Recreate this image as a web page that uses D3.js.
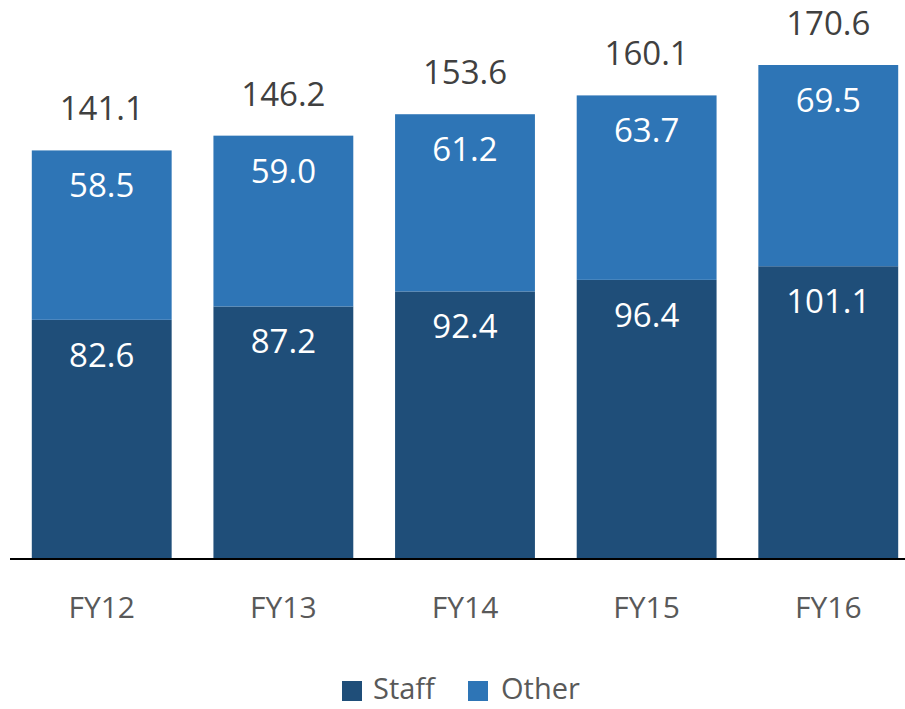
<!DOCTYPE html>
<html><head><meta charset="utf-8">
<script src="https://cdn.jsdelivr.net/npm/d3@7"></script>
<style>body{margin:0;background:#fff}svg{display:block}text{font-family:"Open Sans",sans-serif}</style>
</head><body>
<svg id="c" width="905" height="709"></svg>
<script>
const categories = ["FY12","FY13","FY14","FY15","FY16"];
const staff = [82.6,87.2,92.4,96.4,101.1];
const other = [58.5,59.0,61.2,63.7,69.5];
const totals = [141.1,146.2,153.6,160.1,170.6];
const seriesNames = ["Staff","Other"];
const colors = ["#1F4E79","#2E75B6"];

const svg = d3.select("#c");
const baseY = 559;
const x = d3.scaleBand().domain(categories).range([10, 920]).paddingInner(0.23).paddingOuter(0.12);
const y = d3.scaleLinear().domain([0, 170.6]).range([baseY, 65]);

const data = categories.map((c,i)=>({cat:c, Staff:staff[i], Other:other[i], total:totals[i]}));
const stack = d3.stack().keys(seriesNames)(data);

stack.forEach((layer, li) => {
  svg.append("g").selectAll("rect").data(layer).join("rect")
    .attr("x", d=>x(d.data.cat)).attr("width", x.bandwidth())
    .attr("y", d=>y(d[1])).attr("height", d=>y(d[0])-y(d[1]))
    .attr("fill", colors[li]);
  svg.append("g").selectAll("text").data(layer).join("text")
    .attr("x", d=>x(d.data.cat)+x.bandwidth()/2)
    .attr("y", d=>y(d[1])+47)
    .attr("text-anchor","middle").attr("fill","#fff").attr("font-size",33)
    .text(d=>d3.format(".1f")(d[1]-d[0]));
});

svg.append("g").selectAll("text").data(data).join("text")
  .attr("x", d=>x(d.cat)+x.bandwidth()/2)
  .attr("y", d=>y(d.total)-30)
  .attr("text-anchor","middle").attr("fill","#404040").attr("font-size",33)
  .text(d=>d3.format(".1f")(d.total));

const axis = svg.append("g").attr("transform",`translate(0,${baseY})`)
  .call(d3.axisBottom(x).tickSize(0).tickPadding(0));
axis.select(".domain").remove();
svg.append("line").attr("x1",10).attr("x2",905).attr("y1",baseY).attr("y2",baseY)
  .attr("stroke","#000").attr("stroke-width",2);
axis.selectAll("text").attr("y",59).attr("dy",0).attr("font-size",30)
  .attr("fill","#595959").attr("font-family","Open Sans, sans-serif");

const legend = [{name:"Staff",sx:342,tx:373},{name:"Other",sx:468,tx:501}];
legend.forEach((l,i)=>{
  svg.append("rect").attr("x",l.sx).attr("y",681).attr("width",20).attr("height",20).attr("fill",colors[i]);
  svg.append("text").attr("x",l.tx).attr("y",699).attr("font-size",29).attr("fill","#595959").text(seriesNames[i]);
});
</script>
</body></html>
